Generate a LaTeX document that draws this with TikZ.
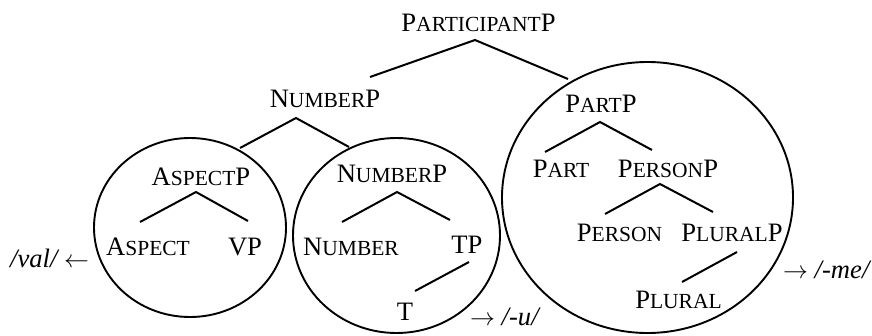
\documentclass[tikz,border=0pt]{standalone}
\usepackage{fontspec}
\setmainfont{Liberation Serif}
\usetikzlibrary{shapes.geometric}
\newcommand{\bigsz}{\fontsize{26.6}{30}\selectfont}
\newcommand{\smsz}{\fontsize{21.5}{24}\selectfont}
\newcommand{\sm}[1]{{\smsz #1}}
\tikzset{
  lbl/.style={anchor=base, inner sep=0pt, font=\bigsz},
  branch/.style={line width=2pt},
  bubble/.style={draw, ellipse, line width=1.9pt, inner sep=0pt}
}
\begin{document}
\begin{tikzpicture}[x=1pt,y=-1pt]
\useasboundingbox (0,0) rectangle (872,335);
% circles
\node[bubble, minimum width=192pt, minimum height=179pt] (c1) at (190,227.5) {};
\node[bubble, minimum width=207pt, minimum height=195pt] (c2) at (396.5,235.5) {};
\node[bubble, minimum width=291pt, minimum height=271pt] (c3) at (647.5,197.5) {};
% labels
\node[lbl] (partp0) at (478.5,31) {P\sm{ARTICIPANT}P};
\node[lbl] (numP1) at (325,107) {N\sm{UMBER}P};
\node[lbl] (aspP) at (201,185) {A\sm{SPECT}P};
\node[lbl] (asp) at (148,255) {A\sm{SPECT}};
\node[lbl] (vp) at (245,255) {VP};
\node[lbl] (numP2) at (392,182) {N\sm{UMBER}P};
\node[lbl] (num) at (351,255) {N\sm{UMBER}};
\node[lbl] (tp) at (467,253) {TP};
\node[lbl] (t) at (405,320) {T};
\node[lbl] (partP) at (601,112) {P\sm{ART}P};
\node[lbl] (part) at (561,177) {P\sm{ART}};
\node[lbl] (persP) at (668,177) {P\sm{ERSON}P};
\node[lbl] (pers) at (619.5,241) {P\sm{ERSON}};
\node[lbl] (plP) at (732,241) {P\sm{LURAL}P};
\node[lbl] (pl) at (678.5,308) {P\sm{LURAL}};
% exponents
\node[lbl, anchor=base west] (val) at (10,267) {\itshape /val/ $\leftarrow$};
\node[lbl, anchor=base west] (u) at (470,325) {$\rightarrow$ \itshape /-u/};
\node[lbl, anchor=base west] (me) at (783,278) {$\rightarrow$ \itshape /-me/};
% branch points
\coordinate (a0) at (475,40);
\coordinate (a0l) at (370,77);
\coordinate (a0r) at (568,79);
\coordinate (a1) at (296,118);
\coordinate (a1l) at (240,148);
\coordinate (a1r) at (349,147);
\coordinate (a2) at (196,192);
\coordinate (a2l) at (140,222);
\coordinate (a2r) at (248,221);
\coordinate (a3) at (397,192);
\coordinate (a3l) at (342,222);
\coordinate (a3r) at (450,220);
\coordinate (a4s) at (469,262);
\coordinate (a4e) at (415,291);
\coordinate (a5) at (600,122);
\coordinate (a5l) at (545,152);
\coordinate (a5r) at (652,150);
\coordinate (a6) at (660,184);
\coordinate (a6l) at (605,214);
\coordinate (a6r) at (713,212);
\coordinate (a7s) at (737,252);
\coordinate (a7e) at (682,282);
\draw[branch] (a0l) -- (a0) -- (a0r);
\draw[branch] (a1l) -- (a1) -- (a1r);
\draw[branch] (a2l) -- (a2) -- (a2r);
\draw[branch] (a3l) -- (a3) -- (a3r);
\draw[branch] (a4s) -- (a4e);
\draw[branch] (a5l) -- (a5) -- (a5r);
\draw[branch] (a6l) -- (a6) -- (a6r);
\draw[branch] (a7s) -- (a7e);
\end{tikzpicture}
\end{document}
